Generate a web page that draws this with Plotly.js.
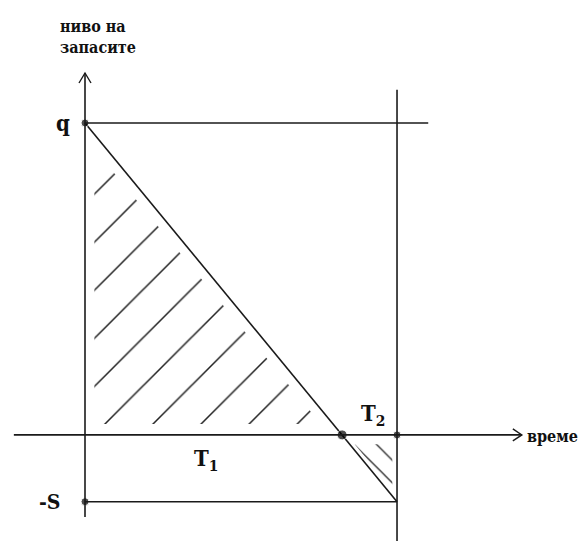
<!DOCTYPE html>
<html>
<head>
<meta charset="utf-8">
<script src="https://cdn.plot.ly/plotly-3.0.1.min.js"></script>
<style>html,body{margin:0;padding:0;background:#fff;}#chart{width:578px;height:541px;}</style>
</head>
<body>
<div id="chart"></div>
<script>
// ---- data (in diagram units) ----
const inventoryTime  = [0, 8.24, 10];      // start, T1, T1+T2
const inventoryLevel = [10, 0, -2.14];     // q, 0, -S
const keyPointX      = [0, 8.24, 10, 0];   // q, T1 crossing, end of T2, -S
const keyPointY      = [10, 0, 0, -2.14];
const levelLabels    = ['q', '-S'];
const periodLabels   = ['T<sub>1</sub>', 'T<sub>2</sub>'];
const axisLabels     = ['ниво на<br>запасите', 'време'];

const q = inventoryLevel[0];
const S = -inventoryLevel[2];
const T1 = inventoryTime[1];
const T = inventoryTime[2];

const ink = '#1a1a1a';
const lineW = 1.6;
const serif = '"DejaVu Serif Condensed", "DejaVu Serif", "Liberation Serif", serif';

// hatch regions (inset versions of the two triangles)
const slope = q / T1;
const norm = Math.sqrt(1 + slope * slope);
const inL = 0.3, inB = 0.35, inH = 0.3;
const hypA = q - inH * norm;
const hatchMain = {
  x: [inL, inL, (hypA - inB) / slope, inL],
  y: [inB, hypA - slope * inL, inB, inB]
};
const inT = 0.3, inR = 0.15, inH2 = 0.12;
const hypB = q + inH2 * norm;
const hatchSmall = {
  x: [(hypB + inT) / slope, T - inR, T - inR, (hypB + inT) / slope],
  y: [-inT, -inT, hypB - slope * (T - inR), -inT]
};

const traces = [
  {
    x: hatchMain.x, y: hatchMain.y, mode: 'lines', fill: 'toself',
    line: {width: 0, color: 'rgba(0,0,0,0)'}, fillcolor: 'rgba(0,0,0,0)',
    fillpattern: {shape: '/', size: 34, solidity: 0.045, fgcolor: '#222', bgcolor: 'rgba(255,255,255,0)', fillmode: 'replace'},
    hoverinfo: 'skip', showlegend: false
  },
  {
    x: hatchSmall.x, y: hatchSmall.y, mode: 'lines', fill: 'toself',
    line: {width: 0, color: 'rgba(0,0,0,0)'}, fillcolor: 'rgba(0,0,0,0)',
    fillpattern: {shape: '\\', size: 16, solidity: 0.08, fgcolor: '#222', bgcolor: 'rgba(255,255,255,0)', fillmode: 'replace'},
    hoverinfo: 'skip', showlegend: false
  },
  {
    x: inventoryTime, y: inventoryLevel, mode: 'lines',
    line: {color: ink, width: lineW}, hoverinfo: 'skip', showlegend: false
  },
  {
    x: keyPointX, y: keyPointY, mode: 'markers',
    marker: {color: '#000', size: [8, 10, 8, 8]}, hoverinfo: 'skip', showlegend: false
  }
];

const lineShape = (x0, y0, x1, y1) => ({type: 'line', xref: 'x', yref: 'y', x0, y0, x1, y1, line: {color: ink, width: lineW}});
const arrowHead = (xa, ya, path) => ({type: 'path', xref: 'x', yref: 'y', xsizemode: 'pixel', ysizemode: 'pixel',
  xanchor: xa, yanchor: ya, path, line: {color: ink, width: 1.4}});

const yTip = 11.6, xTip = 14.0;

const layout = {
  width: 578, height: 541,
  margin: {l: 0, r: 0, t: 0, b: 0},
  paper_bgcolor: '#fff', plot_bgcolor: '#fff',
  xaxis: {range: [-2.724, 15.80], visible: false, fixedrange: true},
  yaxis: {range: [-3.40, 13.94], visible: false, fixedrange: true},
  shapes: [
    lineShape(0, -2.63, 0, yTip),         // stock axis
    lineShape(-2.28, 0, xTip, 0),         // time axis
    arrowHead(0, yTip, 'M-6,-10 L0,0 L6,-10'),
    arrowHead(xTip, 0, 'M-9,6 L0,0 L-9,-6'),
    lineShape(0, q, T + 1.0, q),          // q level
    lineShape(0, -S, T, -S),              // -S level
    lineShape(T, 11.06, T, -3.6)          // end of cycle
  ],
  annotations: [
    {x: -0.87, y: 12.75, xref: 'x', yref: 'y', xanchor: 'left', yanchor: 'middle', align: 'left',
     text: axisLabels[0], showarrow: false, font: {family: serif, size: 16, color: '#111', weight: 'bold'}},
    {x: 14.1, y: -0.06, xref: 'x', yref: 'y', xanchor: 'left', yanchor: 'middle',
     text: axisLabels[1], showarrow: false, font: {family: serif, size: 16, color: '#111', weight: 'bold'}},
    {x: -0.7, y: q, xref: 'x', yref: 'y', xanchor: 'center', yanchor: 'middle',
     text: levelLabels[0], showarrow: false, font: {family: serif, size: 22, color: '#111', weight: 'bold'}},
    {x: -1.12, y: -S, xref: 'x', yref: 'y', xanchor: 'center', yanchor: 'middle',
     text: levelLabels[1], showarrow: false, font: {family: serif, size: 21, color: '#111', weight: 'bold'}},
    {x: 3.87, y: -0.8, xref: 'x', yref: 'y', xanchor: 'center', yanchor: 'middle',
     text: periodLabels[0], showarrow: false, font: {family: serif, size: 22, color: '#111', weight: 'bold'}},
    {x: 9.23, y: 0.64, xref: 'x', yref: 'y', xanchor: 'center', yanchor: 'middle',
     text: periodLabels[1], showarrow: false, font: {family: serif, size: 22, color: '#111', weight: 'bold'}}
  ]
};

Plotly.newPlot('chart', traces, layout, {displayModeBar: false, staticPlot: true});
</script>
</body>
</html>
